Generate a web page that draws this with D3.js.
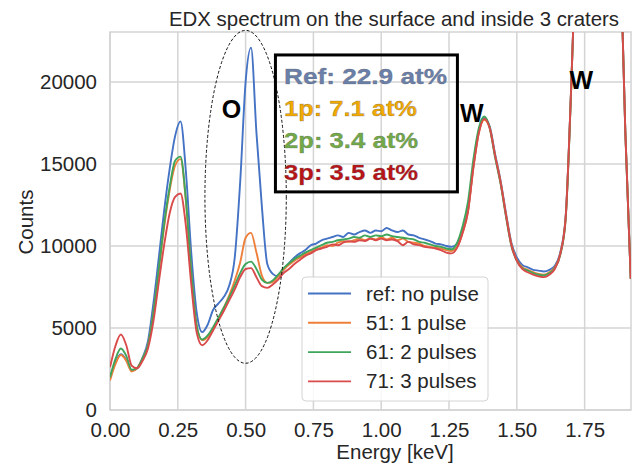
<html>
<head>
<meta charset="utf-8">
<title>EDX spectrum</title>
<script src="https://cdn.jsdelivr.net/npm/d3@7"></script>
<style>
  body { margin: 0; background: #fff; }
  text { font-family: "Liberation Sans", Arial, sans-serif; }
</style>
</head>
<body>
<svg id="chart" width="636" height="464"></svg>
<script>
// energy axis (keV), shared by all four spectra
var energy = [0.00, 0.02, 0.04, 0.06, 0.08, 0.10, 0.12, 0.14, 0.16, 0.18,
  0.20, 0.22, 0.24, 0.26, 0.28, 0.30, 0.32, 0.34, 0.36, 0.38,
  0.40, 0.42, 0.44, 0.46, 0.48, 0.50, 0.52, 0.54, 0.56, 0.58,
  0.60, 0.62, 0.64, 0.66, 0.68, 0.70, 0.72, 0.74, 0.76, 0.78,
  0.80, 0.82, 0.84, 0.86, 0.88, 0.90, 0.92, 0.94, 0.96, 0.98,
  1.00, 1.02, 1.04, 1.06, 1.08, 1.10, 1.12, 1.14, 1.16, 1.18,
  1.20, 1.22, 1.24, 1.26, 1.28, 1.30, 1.32, 1.34, 1.36, 1.38,
  1.40, 1.42, 1.44, 1.46, 1.48, 1.50, 1.52, 1.54, 1.56, 1.58,
  1.60, 1.62, 1.64, 1.66, 1.68, 1.70, 1.72, 1.74, 1.76, 1.78,
  1.80, 1.82, 1.84, 1.86, 1.88, 1.90, 1.92]

var refNoPulse = [1900, 2900, 3400, 3050, 2400, 2550, 3200, 4200, 6500, 9300,
  12200, 14700, 16700, 17600, 14500, 9500, 5900, 4750, 5200, 6100,
  6500, 6900, 7600, 9300, 13900, 20000, 22100, 16900, 12400, 8900,
  8300, 8150, 8550, 8950, 9300, 9550, 9750, 10050, 10150, 10350,
  10450, 10550, 10650, 10550, 10800, 10700, 10850, 10950, 10800, 10950,
  10900, 11100, 10950, 10850, 10950, 10700, 10650, 10500, 10400, 10300,
  10150, 10100, 10000, 9950, 10150, 10900, 12200, 14900, 17000, 17800,
  17300, 15600, 14000, 12000, 10200, 9300, 8850, 8700, 8550, 8500,
  8450, 8550, 8800, 9600, 11800, 19500, 29000, 36000, 40000, 42000,
  42500, 42000, 40000, 36000, 29000, 17000, 8000]

var onePulse = [1800, 2800, 3350, 3000, 2350, 2550, 3150, 3950, 5900, 8500,
  11200, 13400, 14900, 15300, 12700, 8300, 5100, 4250, 4450, 4950,
  5550, 6250, 7000, 7900, 9000, 10500, 10800, 9600, 8200, 7750,
  7800, 8150, 8550, 8850, 9100, 9300, 9500, 9650, 9800, 9900,
  10050, 10000, 10200, 10300, 10250, 10350, 10450, 10350, 10450, 10400,
  10550, 10400, 10500, 10350, 10450, 10250, 10200, 10150, 10000, 9950,
  9900, 9850, 9750, 9700, 9950, 10800, 12100, 14800, 16900, 17700,
  17200, 15500, 13900, 11900, 10100, 9150, 8700, 8550, 8400, 8300,
  8250, 8400, 8700, 9500, 11700, 19400, 29000, 36000, 40000, 42000,
  42500, 42000, 40000, 36000, 29000, 17000, 8000]

var twoPulses = [2000, 3100, 3750, 3300, 2450, 2550, 3150, 3950, 5900, 8600,
  11400, 13600, 15200, 15450, 12800, 8400, 5100, 4300, 4550, 5050,
  5650, 6250, 6900, 7600, 8350, 8900, 9050, 8600, 7950, 7750,
  7900, 8250, 8650, 8950, 9200, 9400, 9600, 9750, 9900, 10050,
  10200, 10250, 10350, 10400, 10450, 10550, 10500, 10650, 10550, 10650,
  10600, 10700, 10600, 10550, 10500, 10450, 10400, 10250, 10200, 10100,
  10000, 9950, 9850, 9800, 10200, 11200, 12700, 15300, 17200, 17900,
  17200, 15400, 13800, 11800, 10000, 9100, 8650, 8500, 8350, 8250,
  8200, 8350, 8650, 9450, 11600, 19400, 29000, 36000, 40000, 42000,
  42500, 42000, 40000, 36000, 29000, 17000, 8000]

var threePulses = [2600, 3900, 4600, 3950, 2700, 2550, 3000, 3750, 5400, 7800,
  10100, 12000, 13000, 13200, 11200, 7600, 4700, 3950, 4250, 4850,
  5450, 6050, 6700, 7350, 8100, 8600, 8650, 8100, 7550, 7450,
  7650, 7950, 8350, 8600, 8900, 9150, 9400, 9550, 9750, 9850,
  9950, 10100, 10050, 10200, 10300, 10250, 10350, 10300, 10450, 10350,
  10450, 10350, 10400, 10300, 10050, 10250, 10100, 10050, 9950, 9900,
  9850, 9750, 9600, 9550, 9900, 10800, 12100, 14800, 16900, 17750,
  17200, 15500, 13900, 11900, 10050, 9100, 8600, 8400, 8250, 8150,
  8100, 8250, 8600, 9500, 11700, 19500, 29000, 36000, 40000, 42000,
  42500, 42000, 40000, 36000, 29000, 17000, 8000]

var seriesNames = ['ref: no pulse', '51: 1 pulse', '61: 2 pulses', '71: 3 pulses']
var seriesValues = [refNoPulse, onePulse, twoPulses, threePulses]
var seriesColors = ['#4472c4', '#ee7f3b', '#3ea55a', '#d94a4a']

var xTicks = [0.00, 0.25, 0.50, 0.75, 1.00, 1.25, 1.50, 1.75]
var yTicks = [0, 5000, 10000, 15000, 20000]

var boxLines = ['Ref: 22.9 at%', '1p: 7.1 at%', '2p: 3.4 at%', '3p: 3.5 at%']
var boxColors = ['#6a80aa', '#f2a900', '#72aa48', '#b81418']

function drawChart() {
  var svg = d3.select('#chart')
  var plotL = 110, plotR = 631, plotT = 32, plotB = 410
  var fs = 20.5

  var x = d3.scaleLinear().domain([0, 1.921]).range([plotL, plotR])
  var y = d3.scaleLinear().domain([0, 23050]).range([plotB, plotT])

  // grid (seaborn whitegrid look)
  svg.append('g').selectAll('line').data(xTicks).enter().append('line')
    .attr('x1', x).attr('x2', x).attr('y1', plotT).attr('y2', plotB)
    .attr('stroke', '#d4d4d4').attr('stroke-width', 1.5)
  svg.append('g').selectAll('line').data(yTicks).enter().append('line')
    .attr('x1', plotL).attr('x2', plotR).attr('y1', y).attr('y2', y)
    .attr('stroke', '#d4d4d4').attr('stroke-width', 1.5)
  svg.append('rect')
    .attr('x', plotL).attr('y', plotT).attr('width', plotR - plotL).attr('height', plotB - plotT)
    .attr('fill', 'none').attr('stroke', '#d4d4d4').attr('stroke-width', 1.5)

  // tick labels
  var xAxis = d3.axisBottom(x).tickValues(xTicks).tickFormat(d3.format('.2f')).tickSize(0).tickPadding(12)
  var gx = svg.append('g').attr('transform', 'translate(0,' + plotB + ')').call(xAxis)
  var yAxis = d3.axisLeft(y).tickValues(yTicks).tickFormat(d3.format('d')).tickSize(0).tickPadding(13)
  var gy = svg.append('g').attr('transform', 'translate(' + plotL + ',0)').call(yAxis)
  ;[gx, gy].forEach(function (g) {
    g.select('.domain').remove()
    g.selectAll('text').attr('font-size', fs).attr('fill', '#262626')
      .attr('font-family', '"Liberation Sans", Arial, sans-serif')
  })

  // spectra
  svg.append('clipPath').attr('id', 'plotclip').append('rect')
    .attr('x', plotL).attr('y', plotT).attr('width', plotR - plotL).attr('height', plotB - plotT)
  var line = d3.line().curve(d3.curveMonotoneX)
    .x(function (d, i) { return x(energy[i]) })
    .y(function (d) { return y(d) })
  svg.append('g').attr('clip-path', 'url(#plotclip)')
    .selectAll('path').data(seriesValues).enter().append('path')
    .attr('d', line)
    .attr('fill', 'none')
    .attr('stroke', function (d, i) { return seriesColors[i] })
    .attr('stroke-width', 1.9)

  // dashed ellipse round the O peak
  svg.append('ellipse')
    .attr('cx', x(0.50)).attr('cy', y(13000))
    .attr('rx', x(0.15) - x(0)).attr('ry', y(0) - y(10150))
    .attr('fill', 'none').attr('stroke', '#111').attr('stroke-width', 1)
    .attr('stroke-dasharray', '3,2')

  // element labels
  var elements = [['O', 0.448, 17800], ['W', 1.334, 17560], ['W', 1.738, 19550]]
  svg.append('g').selectAll('text').data(elements).enter().append('text')
    .attr('x', function (d) { return x(d[1]) }).attr('y', function (d) { return y(d[2]) })
    .attr('text-anchor', 'middle').attr('font-size', 25).attr('font-weight', 'bold')
    .attr('fill', '#000').text(function (d) { return d[0] })

  // at% box
  svg.append('rect')
    .attr('x', x(0.610)).attr('y', y(21650))
    .attr('width', x(1.281) - x(0.610)).attr('height', y(13300) - y(21650))
    .attr('fill', 'none').attr('stroke', '#000').attr('stroke-width', 3)
  var boxWidths = [163, 133, 134, 134]
  svg.append('g').selectAll('text').data(boxLines).enter().append('text')
    .attr('x', 284).attr('y', function (d, i) { return 84 + i * 32 })
    .attr('font-size', 22).attr('font-weight', 'bold')
    .attr('textLength', function (d, i) { return boxWidths[i] })
    .attr('lengthAdjust', 'spacingAndGlyphs')
    .attr('fill', function (d, i) { return boxColors[i] })
    .attr('stroke', '#555').attr('stroke-width', 0.4).attr('stroke-opacity', 0.6)
    .text(String)

  // legend
  var legend = svg.append('g').attr('transform', 'translate(302,277)')
  legend.append('rect').attr('width', 186).attr('height', 124).attr('rx', 4)
    .attr('fill', '#fff').attr('fill-opacity', 0.85).attr('stroke', '#d4d4d4').attr('stroke-width', 1)
  var items = legend.selectAll('g.item').data(seriesNames).enter().append('g')
    .attr('transform', function (d, i) { return 'translate(0,' + (16.5 + i * 29.3) + ')' })
  items.append('line').attr('x1', 6).attr('x2', 49)
    .attr('stroke', function (d, i) { return seriesColors[i] }).attr('stroke-width', 1.9)
  items.append('text').attr('x', 64).attr('y', 7).attr('font-size', fs).attr('fill', '#262626').text(String)

  // titles
  svg.append('text').attr('x', 394).attr('y', 26).attr('text-anchor', 'middle')
    .attr('font-size', 20.4).attr('fill', '#262626')
    .text('EDX spectrum on the surface and inside 3 craters')
  svg.append('text').attr('x', 395).attr('y', 459).attr('text-anchor', 'middle')
    .attr('font-size', fs).attr('fill', '#262626').text('Energy [keV]')
  svg.append('text').attr('transform', 'translate(33,222) rotate(-90)').attr('text-anchor', 'middle')
    .attr('font-size', fs).attr('fill', '#262626').text('Counts')
}

drawChart()
</script>
</body>
</html>
